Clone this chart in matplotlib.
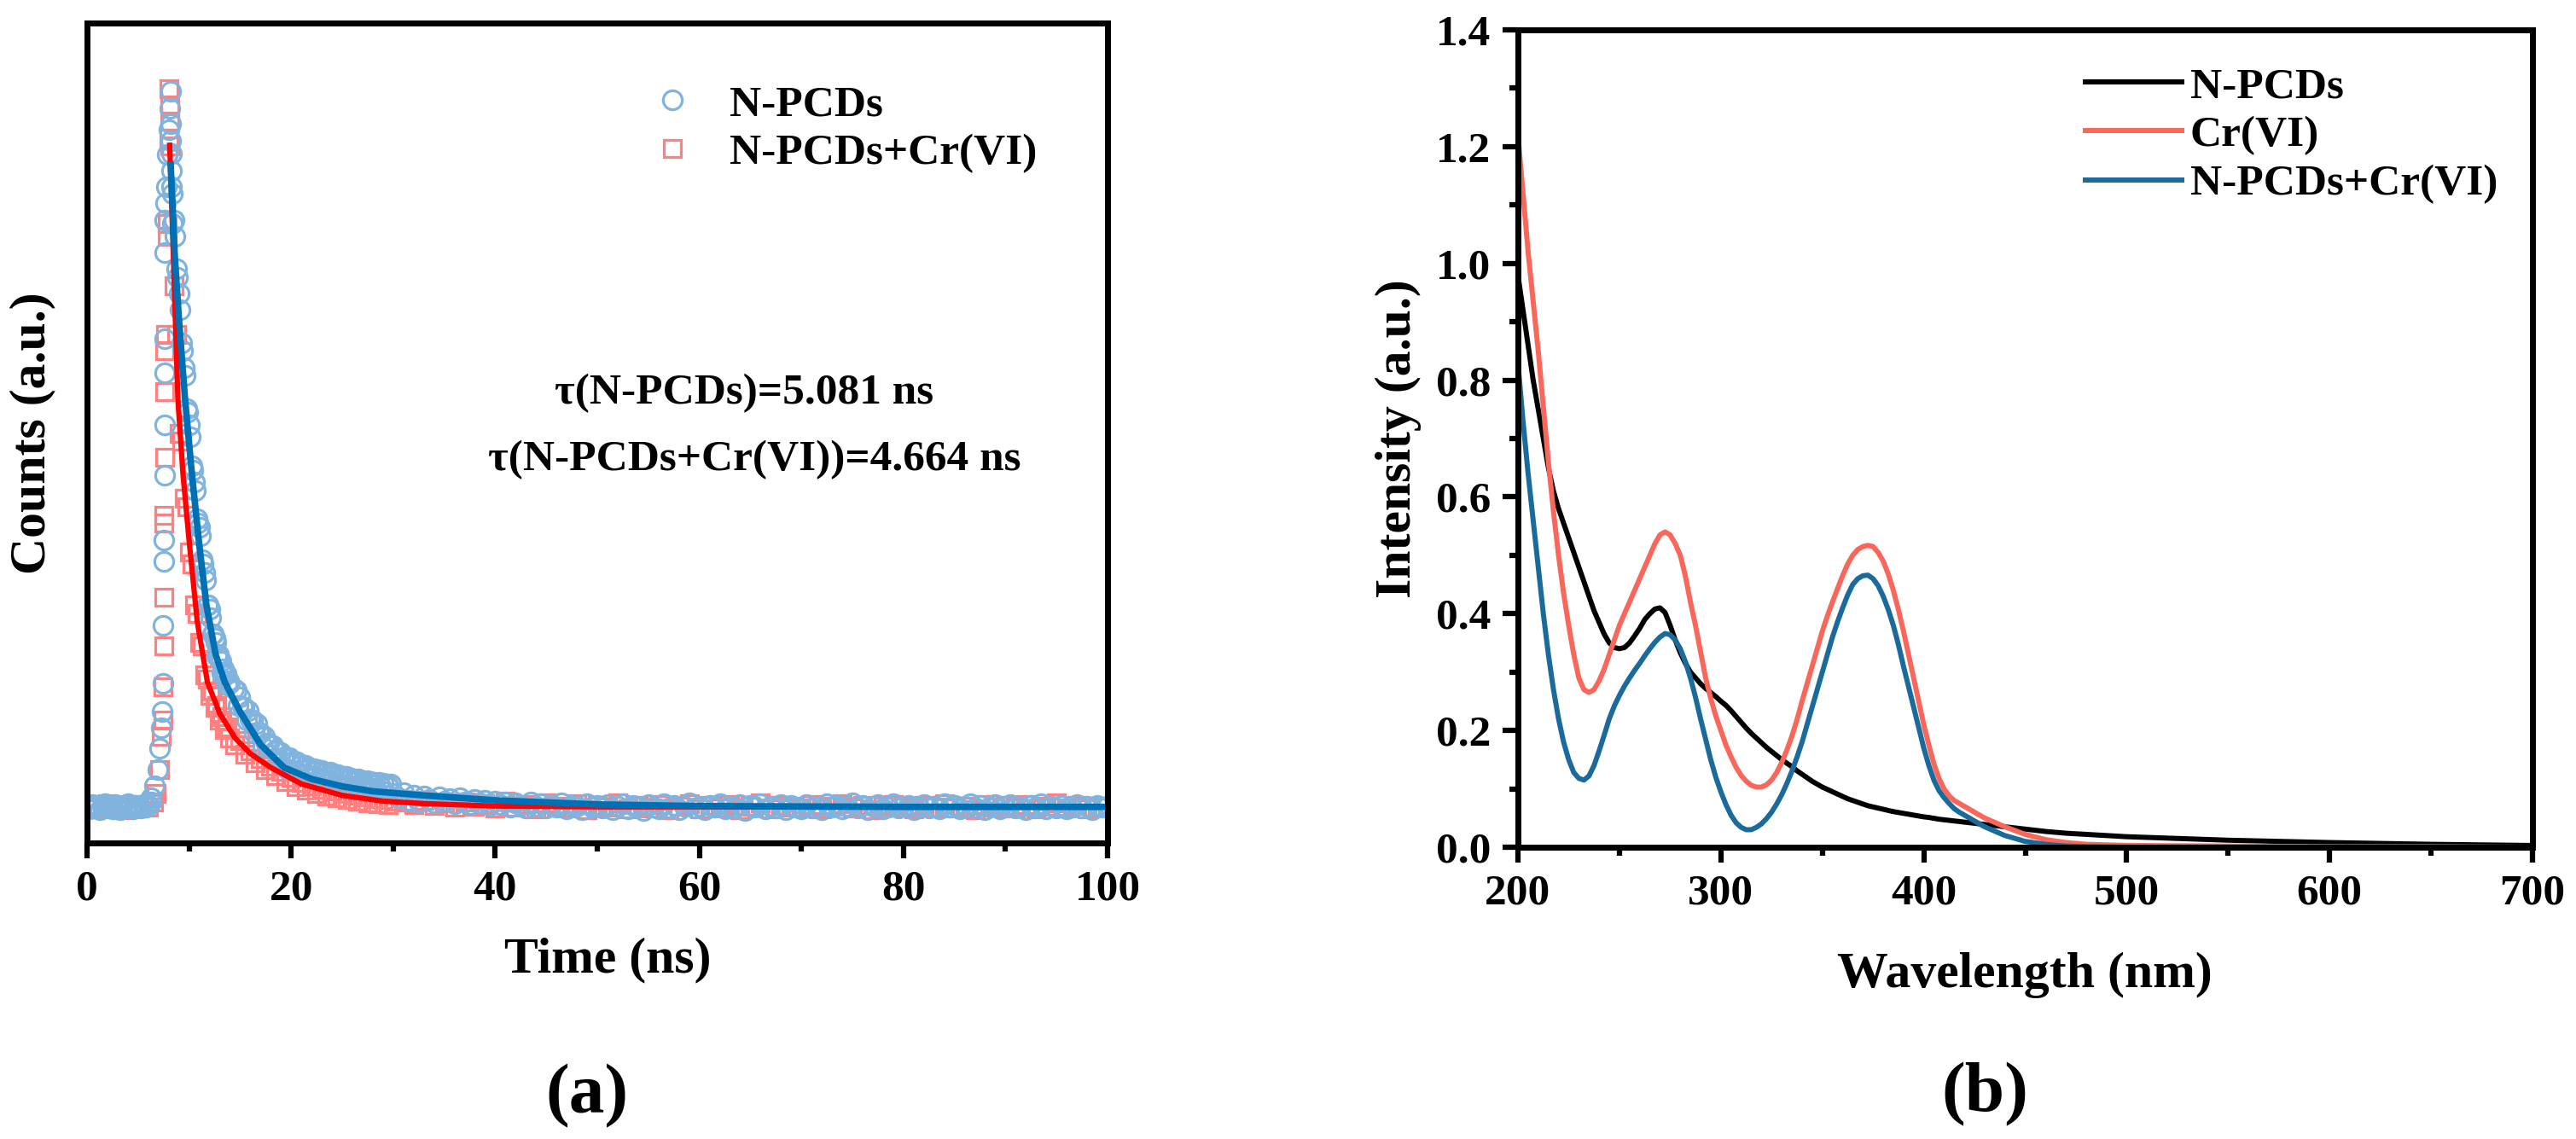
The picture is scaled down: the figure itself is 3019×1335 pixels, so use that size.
import numpy as np
import matplotlib
matplotlib.use("Agg")
import matplotlib.pyplot as plt
from matplotlib.ticker import MultipleLocator, NullLocator, FormatStrFormatter

plt.rcParams['font.family'] = ['Liberation Serif', 'DejaVu Serif']
plt.rcParams['font.weight'] = 'bold'

# ---------------- (a) fluorescence decay ----------------
# N-PCDs (circles)
np_t_base = np.arange(0, 6.26, 0.25)
np_c_base = [0.045, 0.042, 0.047, 0.043, 0.046, 0.041, 0.045, 0.048, 0.043, 0.046,
             0.042, 0.047, 0.044, 0.041, 0.046, 0.043, 0.048, 0.044, 0.042, 0.046,
             0.045, 0.043, 0.047, 0.044, 0.046, 0.050]
np_t_rise = [6.3, 6.6, 6.9, 7.1, 7.25, 7.35, 7.4, 7.45, 7.5, 7.55, 7.6, 7.6, 7.6, 7.65, 7.65,
             7.6, 7.7, 7.8, 7.9, 8.0, 8.1, 8.2, 8.2, 8.2, 8.25, 8.3, 8.3, 8.35, 8.4]
np_c_rise = [0.055, 0.07, 0.09, 0.115, 0.14, 0.16, 0.195, 0.265, 0.343, 0.369, 0.448, 0.573,
             0.615, 0.72, 0.76, 0.51, 0.78, 0.80, 0.84, 0.87, 0.896, 0.917, 0.877, 0.856,
             0.841, 0.82, 0.80, 0.792, 0.755]
np_t_dec = np.arange(8.5, 14.01, 0.25)
np_c_dec = [0.76, 0.70, 0.67, 0.61, 0.58, 0.53, 0.51, 0.46, 0.44, 0.395, 0.385, 0.345,
            0.33, 0.29, 0.285, 0.255, 0.25, 0.228, 0.225, 0.207, 0.208, 0.193, 0.195]
np_t_dec2 = np.arange(8.625, 13.9, 0.25)
np_c_dec2 = [0.74, 0.69, 0.65, 0.60, 0.57, 0.525, 0.495, 0.455, 0.43, 0.39, 0.375, 0.34,
             0.32, 0.29, 0.275, 0.255, 0.245, 0.23, 0.222, 0.212, 0.206, 0.198]
np_t_mid = np.arange(14.4, 30.01, 0.4)
np_c_mid = [0.188, 0.168, 0.166, 0.15, 0.151, 0.134, 0.135, 0.118, 0.122, 0.107,
            0.112, 0.098, 0.104, 0.091, 0.098, 0.087, 0.094, 0.083, 0.09, 0.079,
            0.087, 0.076, 0.084, 0.074, 0.081, 0.072, 0.079, 0.07, 0.077, 0.068,
            0.075, 0.066, 0.073, 0.064, 0.071, 0.063, 0.069, 0.062, 0.068, 0.06]
np_t_mid2 = np.arange(14.6, 29.81, 0.4)
np_c_mid2 = [0.186, 0.178, 0.165, 0.161, 0.15, 0.146, 0.134, 0.13, 0.122, 0.119,
             0.112, 0.11, 0.105, 0.104, 0.1, 0.099, 0.096, 0.095, 0.092, 0.091,
             0.089, 0.088, 0.086, 0.086, 0.084, 0.083, 0.081, 0.081, 0.079, 0.078,
             0.078, 0.076, 0.076, 0.075, 0.074, 0.074, 0.073, 0.072, 0.072]
np_t_tail = np.arange(30.5, 100.01, 0.5)
np_c_tail = [0.055, 0.061, 0.052, 0.058, 0.050, 0.057, 0.053, 0.049, 0.056, 0.051,
             0.054, 0.048, 0.055, 0.050, 0.047, 0.053, 0.049, 0.052, 0.046, 0.051,
             0.047, 0.050, 0.044, 0.049, 0.046, 0.043, 0.050, 0.045, 0.048, 0.043,
             0.047, 0.044, 0.049, 0.042, 0.046, 0.045, 0.041, 0.048, 0.044, 0.046,
             0.043, 0.047, 0.041, 0.045, 0.048, 0.042, 0.046, 0.044, 0.040, 0.047,
             0.044, 0.042, 0.048, 0.043, 0.046, 0.041, 0.045, 0.049, 0.043, 0.045,
             0.041, 0.046, 0.044, 0.048, 0.042, 0.045, 0.043, 0.047, 0.040, 0.046,
             0.044, 0.048, 0.042, 0.045, 0.043, 0.047, 0.041, 0.046, 0.044, 0.042,
             0.047, 0.043, 0.045, 0.041, 0.048, 0.044, 0.046, 0.042, 0.045, 0.049,
             0.043, 0.046, 0.041, 0.045, 0.047, 0.042, 0.044, 0.048, 0.043, 0.045,
             0.046, 0.041, 0.044, 0.047, 0.043, 0.045, 0.042, 0.048, 0.044, 0.046,
             0.042, 0.045, 0.048, 0.043, 0.046, 0.041, 0.044, 0.047, 0.042, 0.045,
             0.047, 0.043, 0.045, 0.041, 0.046, 0.044, 0.048, 0.042, 0.045, 0.043,
             0.046, 0.042, 0.044, 0.047, 0.043, 0.045, 0.041, 0.046, 0.044, 0.045]

# N-PCDs + Cr(VI) (squares)
cr_t_base = np.arange(0, 6.51, 0.5)
cr_c_base = [0.044, 0.047, 0.042, 0.045, 0.048, 0.043, 0.046, 0.041, 0.045, 0.047,
             0.043, 0.046, 0.044, 0.050]
cr_t_rise = [6.8, 7.1, 7.3, 7.4, 7.45, 7.5, 7.5, 7.55, 7.55, 7.6, 7.6, 7.65, 7.7, 7.9, 7.9,
             8.0, 8.05, 8.1, 8.1, 8.15]
cr_c_rise = [0.06, 0.09, 0.13, 0.15, 0.19, 0.24, 0.30, 0.39, 0.40, 0.47, 0.55, 0.60, 0.62,
             0.74, 0.755, 0.86, 0.92, 0.90, 0.88, 0.85]
cr_t_dec = np.arange(8.5, 14.01, 0.25)
cr_c_dec = [0.68, 0.62, 0.50, 0.49, 0.42, 0.41, 0.355, 0.34, 0.29, 0.28, 0.245, 0.24,
            0.205, 0.20, 0.18, 0.185, 0.165, 0.168, 0.15, 0.154, 0.138, 0.142, 0.128]
cr_t_mid = np.arange(14.5, 30.01, 0.5)
cr_c_mid = [0.12, 0.125, 0.108, 0.112, 0.098, 0.103, 0.09, 0.094, 0.082, 0.087,
            0.075, 0.08, 0.069, 0.074, 0.064, 0.07, 0.06, 0.066, 0.057, 0.063,
            0.055, 0.06, 0.053, 0.058, 0.051, 0.056, 0.049, 0.054, 0.048, 0.053,
            0.047, 0.051]
cr_t_tail = np.arange(31, 100.5, 1.0)
cr_c_tail = [0.050, 0.047, 0.052, 0.046, 0.049, 0.044, 0.050, 0.045, 0.048, 0.043,
             0.051, 0.044, 0.047, 0.042, 0.049, 0.045, 0.043, 0.048, 0.041, 0.046,
             0.044, 0.049, 0.042, 0.046, 0.043, 0.047, 0.041, 0.045, 0.048, 0.042,
             0.046, 0.043, 0.047, 0.041, 0.045, 0.049, 0.042, 0.046, 0.044, 0.043,
             0.047, 0.042, 0.045, 0.048, 0.043, 0.046, 0.041, 0.045, 0.047, 0.044,
             0.042, 0.046, 0.044, 0.048, 0.043, 0.045, 0.041, 0.047, 0.044, 0.046,
             0.043, 0.047, 0.042, 0.045, 0.049, 0.043, 0.046, 0.042, 0.045, 0.044]

# fitted curves
fit_np_t = [8.2, 8.6, 9.0, 9.6, 10.2, 10.95, 11.7, 12.6, 13.5, 15, 17, 19.3, 22, 25, 28,
            33, 40, 50, 60, 80, 100]
fit_np_c = [0.827, 0.716, 0.64, 0.542, 0.46, 0.369, 0.29, 0.23, 0.196, 0.16, 0.12, 0.092,
            0.078, 0.069, 0.063, 0.058, 0.052, 0.047, 0.045, 0.044, 0.044]
fit_cr_t = [8.1, 8.5, 8.9, 9.4, 10.0, 10.8, 11.8, 13, 14.5, 16, 18, 21, 25, 29, 33, 40, 50, 100]
fit_cr_c = [0.851, 0.70, 0.542, 0.45, 0.369, 0.27, 0.196, 0.158, 0.128, 0.109, 0.092, 0.072,
            0.058, 0.051, 0.048, 0.045, 0.044, 0.044]

# ---------------- (b) absorption spectra ----------------
wl = np.concatenate([np.arange(200, 420.1, 2.5),
                     [430, 440, 450, 460, 470, 480, 500, 550, 600, 650, 700]])
abs_np = [0.98, 0.92, 0.86, 0.80, 0.75, 0.70, 0.65, 0.61, 0.58, 0.555,
          0.53, 0.505, 0.48, 0.455, 0.43, 0.405, 0.385, 0.365, 0.35, 0.342,
          0.34, 0.342, 0.35, 0.362, 0.375, 0.39, 0.40, 0.408, 0.41, 0.402,
          0.38, 0.355, 0.333, 0.315, 0.30, 0.29, 0.28, 0.272, 0.265, 0.258,
          0.25, 0.243, 0.234, 0.224, 0.214, 0.204, 0.195, 0.187, 0.179, 0.171,
          0.164, 0.157, 0.15, 0.144, 0.138, 0.131, 0.125, 0.119, 0.113, 0.108,
          0.103, 0.099, 0.095, 0.091, 0.087, 0.083, 0.08, 0.077, 0.074, 0.071,
          0.069, 0.067, 0.065, 0.063, 0.061, 0.0595, 0.058, 0.0565, 0.055, 0.0535,
          0.052, 0.051, 0.0495, 0.048, 0.047, 0.046, 0.045, 0.044, 0.043,
          0.039, 0.035, 0.031, 0.027, 0.024, 0.022, 0.018, 0.012, 0.008, 0.005, 0.003]
abs_cr = [1.22, 1.12, 1.02, 0.935, 0.85, 0.755, 0.66, 0.575, 0.50, 0.435,
          0.38, 0.33, 0.29, 0.27, 0.265, 0.27, 0.285, 0.305, 0.33, 0.355,
          0.38, 0.40, 0.42, 0.44, 0.46, 0.48, 0.50, 0.52, 0.535, 0.54,
          0.535, 0.52, 0.50, 0.465, 0.42, 0.38, 0.335, 0.29, 0.255, 0.225,
          0.20, 0.175, 0.155, 0.137, 0.123, 0.113, 0.106, 0.103, 0.103, 0.107,
          0.115, 0.128, 0.145, 0.166, 0.19, 0.218, 0.25, 0.28, 0.31, 0.34,
          0.37, 0.396, 0.42, 0.443, 0.465, 0.485, 0.50, 0.51, 0.515, 0.517,
          0.515, 0.505, 0.49, 0.468, 0.44, 0.407, 0.37, 0.33, 0.29, 0.25,
          0.21, 0.175, 0.143, 0.118, 0.10, 0.088, 0.08, 0.075, 0.07,
          0.05, 0.035, 0.022, 0.013, 0.008, 0.005, 0.003, 0.002, 0.001, 0.001, 0.0]
abs_mix = [0.83, 0.73, 0.64, 0.56, 0.48, 0.40, 0.33, 0.27, 0.22, 0.18,
           0.15, 0.128, 0.118, 0.115, 0.122, 0.14, 0.165, 0.192, 0.22, 0.242,
           0.26, 0.276, 0.29, 0.303, 0.315, 0.328, 0.34, 0.351, 0.36, 0.366,
           0.364, 0.355, 0.34, 0.318, 0.29, 0.257, 0.22, 0.185, 0.15, 0.12,
           0.095, 0.073, 0.055, 0.042, 0.034, 0.03, 0.03, 0.034, 0.04, 0.049,
           0.06, 0.074, 0.09, 0.109, 0.13, 0.154, 0.18, 0.21, 0.24, 0.27,
           0.30, 0.33, 0.36, 0.386, 0.41, 0.432, 0.45, 0.46, 0.465, 0.466,
           0.46, 0.448, 0.43, 0.407, 0.38, 0.347, 0.31, 0.275, 0.24, 0.205,
           0.17, 0.14, 0.115, 0.097, 0.085, 0.075, 0.066, 0.06, 0.055,
           0.035, 0.02, 0.01, 0.005, 0.002, 0.001, 0.0, 0.0, 0.0, 0.0, 0.0]

W, H = 3019, 1335
fig = plt.figure(figsize=(W / 100, H / 100), dpi=100)

ax1 = fig.add_axes([102 / W, 1 - 988 / H, 1196 / W, 961 / H])
ax2 = fig.add_axes([1779 / W, 1 - 993 / H, 1189 / W, 958 / H])

for ax in (ax1, ax2):
    for sp in ax.spines.values():
        sp.set_linewidth(5)
    ax.tick_params(which='major', direction='out', length=13, width=4.5, labelsize=37, pad=10,
                   top=False, right=False)
    ax.tick_params(which='minor', direction='out', length=7, width=4.5, top=False, right=False)

# panel (a)
t_np = np.concatenate([np_t_base, np_t_rise, np_t_dec, np_t_dec2, np_t_mid, np_t_mid2, np_t_tail])
c_np = np.concatenate([np_c_base, np_c_rise, np_c_dec, np_c_dec2, np_c_mid, np_c_mid2, np_c_tail])
t_cr = np.concatenate([cr_t_base, cr_t_rise, cr_t_dec, cr_t_mid, cr_t_tail])
c_cr = np.concatenate([cr_c_base, cr_c_rise, cr_c_dec, cr_c_mid, cr_c_tail])

h_cr, = ax1.plot(t_cr, c_cr, ls='none', marker='s', ms=14, mfc='none', mec='#FF8080',
                 mew=2.3, label='N-PCDs+Cr(VI)')
h_np, = ax1.plot(t_np, c_np, ls='none', marker='o', ms=16, mfc='none', mec='#80B4DE',
                 mew=2.3, label='N-PCDs')
ax1.plot(fit_cr_t, fit_cr_c, color='#FF0000', lw=4.5)
ax1.plot(fit_np_t, fit_np_c, color='#0070B4', lw=5.5)

ax1.set_xlim(0, 100)
ax1.set_ylim(0, 1)
ax1.xaxis.set_major_locator(MultipleLocator(20))
ax1.xaxis.set_minor_locator(MultipleLocator(10))
ax1.yaxis.set_major_locator(NullLocator())
ax1.yaxis.set_minor_locator(NullLocator())
ax1.text(0.51, -0.1426, 'Time (ns)', fontsize=43, fontweight='bold', ha='center', va='center',
         transform=ax1.transAxes)
ax1.text(-0.0535, 0.5, 'Counts (a.u.)', fontsize=43, fontweight='bold', ha='center',
         va='center', rotation=90, transform=ax1.transAxes)
ax1.legend(handles=[h_np, h_cr], loc='upper left', bbox_to_anchor=(0.552, 0.925),
           frameon=False, fontsize=37, handlelength=1.0, handletextpad=0.8,
           labelspacing=0.2, borderpad=0, borderaxespad=0)
ax1.text(64.4, 0.548, '\u03c4(N-PCDs)=5.081 ns', fontsize=37, fontweight='bold',
         ha='center', va='center')
ax1.text(65.4, 0.467, '\u03c4(N-PCDs+Cr(VI))=4.664 ns', fontsize=37, fontweight='bold',
         ha='center', va='center')

# panel (b)
ax2.plot(wl, abs_np, color='black', lw=4.3, label='N-PCDs')
ax2.plot(wl, abs_cr, color='#F9675B', lw=4.3, label='Cr(VI)')
ax2.plot(wl, abs_mix, color='#1B6A9C', lw=4.3, label='N-PCDs+Cr(VI)')
ax2.set_xlim(200, 700)
ax2.set_ylim(0, 1.4)
ax2.xaxis.set_major_locator(MultipleLocator(100))
ax2.xaxis.set_minor_locator(MultipleLocator(50))
ax2.yaxis.set_major_locator(MultipleLocator(0.2))
ax2.yaxis.set_minor_locator(MultipleLocator(0.1))
ax2.yaxis.set_major_formatter(FormatStrFormatter('%.1f'))
ax2.text(0.4996, -0.1566, 'Wavelength (nm)', fontsize=43, fontweight='bold', ha='center',
         va='center', transform=ax2.transAxes)
ax2.text(-0.1177, 0.5, 'Intensity (a.u.)', fontsize=43, fontweight='bold', ha='center',
         va='center', rotation=90, transform=ax2.transAxes)
ax2.legend(loc='upper left', bbox_to_anchor=(0.559, 0.955), frameon=False, fontsize=37,
           handlelength=2.2, handletextpad=0.2, labelspacing=0.2, borderpad=0,
           borderaxespad=0)

for lab in ax1.get_xticklabels() + ax2.get_xticklabels() + ax2.get_yticklabels():
    lab.set_fontweight('bold')

fig.text(688 / W, 1 - 1285 / H, '(a)', fontsize=60, fontweight='bold', ha='center', va='center')
fig.text(2326 / W, 1 - 1283 / H, '(b)', fontsize=60, fontweight='bold', ha='center', va='center')

fig.savefig('out.png', dpi=100)
